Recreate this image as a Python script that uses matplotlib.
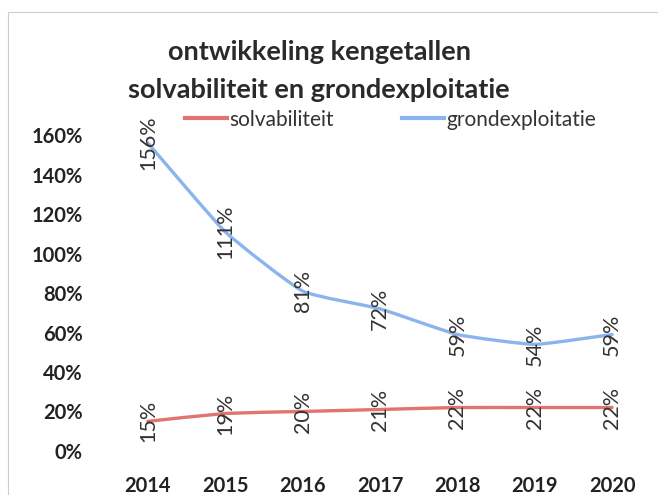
import numpy as np
import matplotlib.pyplot as plt
from matplotlib.path import Path
from matplotlib.patches import PathPatch, Rectangle
from matplotlib.lines import Line2D

years = ["2014", "2015", "2016", "2017", "2018", "2019", "2020"]
solvabiliteit = [0.15, 0.19, 0.20, 0.21, 0.22, 0.22, 0.22]
grondexploitatie = [1.56, 1.11, 0.81, 0.72, 0.59, 0.54, 0.59]
yticks = [0, 0.2, 0.4, 0.6, 0.8, 1.0, 1.2, 1.4, 1.6]

red = "#e27470"
blue = "#8cb4ec"

plt.rcParams['font.family'] = ['Lato', 'DejaVu Sans']

fig = plt.figure(figsize=(6.58, 4.95), dpi=100)
ax = fig.add_axes([0.166, 0.089, 0.823, 0.638])


def smooth_path(x, y, k=1/14):
    # licht gladde lijn (bezier door de punten)
    x = np.asarray(x, float)
    y = np.asarray(y, float)
    verts = [(x[0], y[0])]
    codes = [Path.MOVETO]
    n = len(x)
    for i in range(n - 1):
        p0 = (x[max(i - 1, 0)], y[max(i - 1, 0)])
        p1 = (x[i], y[i])
        p2 = (x[i + 1], y[i + 1])
        p3 = (x[min(i + 2, n - 1)], y[min(i + 2, n - 1)])
        c1 = (p1[0] + (p2[0] - p0[0]) * k, p1[1] + (p2[1] - p0[1]) * k)
        c2 = (p2[0] - (p3[0] - p1[0]) * k, p2[1] - (p3[1] - p1[1]) * k)
        verts += [c1, c2, p2]
        codes += [Path.CURVE4] * 3
    return Path(verts, codes)


xs = np.arange(len(years))
for vals, col in [(solvabiliteit, red), (grondexploitatie, blue)]:
    ax.add_patch(PathPatch(smooth_path(xs, vals), facecolor="none",
                           edgecolor=col, lw=2.4, capstyle="round",
                           joinstyle="round"))
    for x, v in zip(xs, vals):
        ax.text(x, v, "%d%%" % round(v * 100), rotation=90, ha="center",
                va="center", fontsize=15.5, color="#333333", clip_on=False)

ax.set_xlim(-0.5, len(years) - 0.5)
ax.set_ylim(0, 1.6)
ax.set_xticks(xs)
ax.set_xticklabels(years, fontsize=14.5, fontweight="bold", color="#222222")
ax.set_yticks(yticks)
ax.set_yticklabels(["%d%%" % round(t * 100) for t in yticks], fontsize=14.5,
                   fontweight="bold", color="#222222")
ax.tick_params(length=0)
ax.tick_params(axis="x", pad=18)
ax.tick_params(axis="y", pad=19)
for s in ax.spines.values():
    s.set_visible(False)

fig.text(0.485, 0.895, "ontwikkeling kengetallen", ha="center", va="center",
         fontsize=19.5, fontweight="bold", color="#2a2a2a")
fig.text(0.485, 0.818, "solvabiliteit en grondexploitatie", ha="center",
         va="center", fontsize=19.5, fontweight="bold", color="#2a2a2a")

handles = [Line2D([], [], color=red, lw=3), Line2D([], [], color=blue, lw=3)]
fig.legend(handles, ["solvabiliteit", "grondexploitatie"], loc="center left",
           bbox_to_anchor=(0.269, 0.758), borderaxespad=0, ncol=2,
           frameon=False, fontsize=15, handlelength=2.0, handletextpad=0.1,
           columnspacing=3.3, labelcolor="#333333")

fig.add_artist(Rectangle((0.012, -0.02), 1.0, 0.995, transform=fig.transFigure,
                         fill=False, edgecolor="#cccccc", lw=0.8))

fig.savefig("out.png", dpi=100)
